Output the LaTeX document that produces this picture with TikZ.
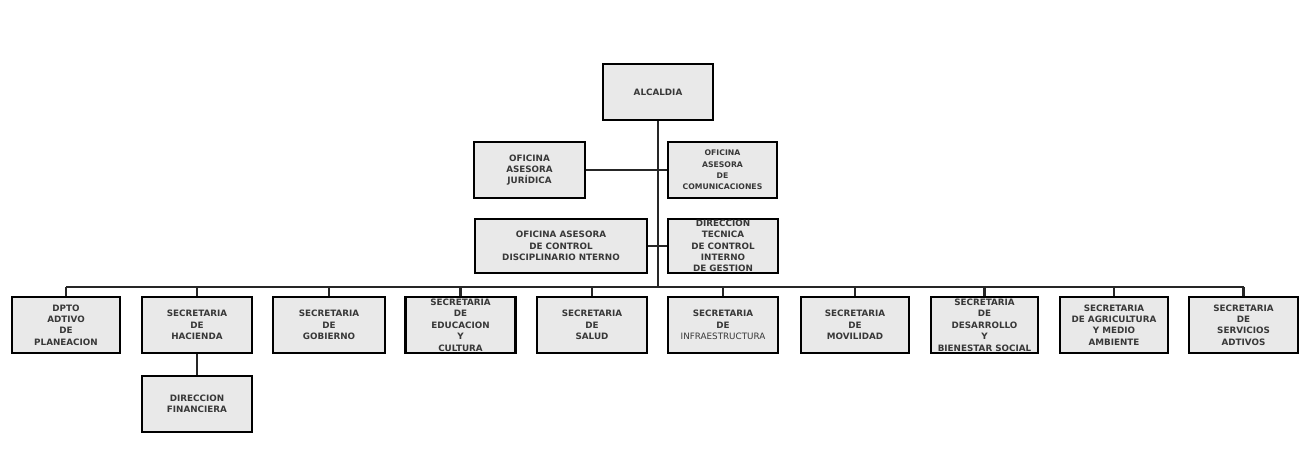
\documentclass[tikz,border=0pt]{standalone}
\usepackage{fontspec}
\setmainfont{DejaVu Sans}
\usepackage{tikz}

\tikzset{
  caja/.style={draw=black, fill=gray!17, line width=1.6pt, minimum width=2.2cm, minimum height=1.12cm,
    inner sep=0pt, align=center, text=black!78, font=\fontsize{5}{6.4}\selectfont\bfseries},
  linea/.style={draw=black!85, line width=1.2pt}
}

\begin{document}
\begin{tikzpicture}[x=0.02cm, y=-0.02cm]
\useasboundingbox (0,0) rectangle (1308,452);
\node[caja] (alcaldia) at (658,92) {ALCALDIA};
\node[caja, minimum width=2.22cm] (juridica) at (529.5,170) {OFICINA\\ASESORA\\JURÍDICA};
\node[caja, minimum width=2.18cm, font=\fontsize{4.4}{6.4}\selectfont\bfseries] (comunicaciones) at (722.5,170) {OFICINA\\ASESORA\\DE\\COMUNICACIONES};
\node[caja, minimum width=3.44cm, minimum height=1.08cm] (disciplinario) at (561,246) {OFICINA ASESORA\\DE CONTROL\\DISCIPLINARIO NTERNO};
\node[caja, minimum height=1.08cm, font=\fontsize{5}{6.4}\selectfont\bfseries] (tecnica) at (723,246) {DIRECCION\\TECNICA\\DE CONTROL\\INTERNO\\DE GESTION};
\node[caja, minimum width=2.16cm] (planeacion) at (66,325) {DPTO\\ADTIVO\\DE\\PLANEACION};
\node[caja] (hacienda) at (197,325) {SECRETARIA\\DE\\HACIENDA};
\node[caja, minimum width=2.24cm] (gobierno) at (329,325) {SECRETARIA\\DE\\GOBIERNO};
\node[caja, font=\fontsize{5}{6.5}\selectfont\bfseries] (educacion) at (460.5,325) {SECRETARIA\\DE\\EDUCACION\\Y\\CULTURA};
\node[caja] (salud) at (592,325) {SECRETARIA\\DE\\SALUD};
\node[caja] (infraestructura) at (723,325) {SECRETARIA\\DE\\{\mdseries INFRAESTRUCTURA}};
\node[caja, minimum width=2.16cm] (movilidad) at (855,325) {SECRETARIA\\DE\\MOVILIDAD};
\node[caja, minimum width=2.14cm, font=\fontsize{5}{6.5}\selectfont\bfseries] (desarrollo) at (984.5,325) {SECRETARIA\\DE\\DESARROLLO\\Y\\BIENESTAR SOCIAL};
\node[caja, minimum width=2.16cm] (agricultura) at (1114,325) {SECRETARIA\\DE AGRICULTURA\\Y MEDIO\\AMBIENTE};
\node[caja, minimum width=2.18cm] (servicios) at (1243.5,325) {SECRETARIA\\DE\\SERVICIOS\\ADTIVOS};
\node[caja] (financiera) at (197,404) {DIRECCION\\FINANCIERA};
\coordinate (bus) at (659,287);
\draw[linea] (alcaldia.south) -- (alcaldia.south |- bus);
\draw[linea] (juridica) -- (comunicaciones);
\draw[linea] (disciplinario) -- (tecnica);
\draw[linea] (planeacion.north |- bus) -- (servicios.north |- bus);
\foreach \sec in {planeacion,hacienda,gobierno,educacion,salud,infraestructura,movilidad,desarrollo,agricultura,servicios}
  \draw[linea] (\sec.north |- bus) -- (\sec.north);
\draw[linea] (hacienda) -- (financiera);
\end{tikzpicture}
\end{document}
